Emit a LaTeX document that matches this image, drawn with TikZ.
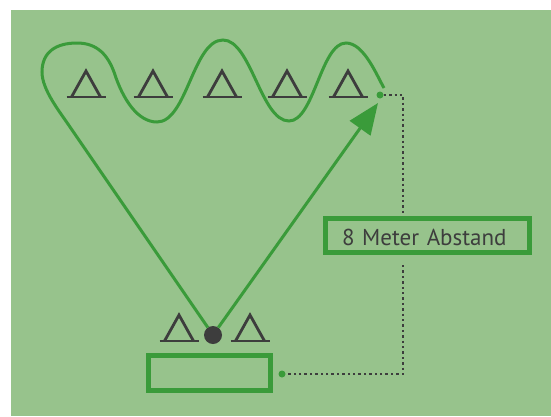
\documentclass[tikz,border=0pt]{standalone}
\usepackage{fontspec}
\setmainfont{PT Sans}
\usetikzlibrary{arrows.meta}
\definecolor{bg}{HTML}{97C38C}
\definecolor{gr}{HTML}{3A9B3A}
\definecolor{dk}{HTML}{3D3D3D}
\tikzset{
  gline/.style={draw=gr, line width=3pt},
  gbox/.style={draw=gr, line width=5pt, inner sep=0pt},
  dotline/.style={draw=dk, line width=2.4pt, dash pattern=on 2.4pt off 3pt},
  gdot/.style={circle, fill=gr, inner sep=0pt, minimum size=7pt},
  cone/.pic={
    \draw[dk, line width=2.8pt, line join=miter] (-14.5,0) -- (0,-26) -- (14.5,0);
    \draw[dk, line width=2.8pt] (-19.5,0) -- (19.5,0);
  }
}
\begin{document}
\begin{tikzpicture}[x=1pt, y=-1pt]
\useasboundingbox (0,0) rectangle (551,416);
\fill[bg] (11,10) rectangle (551,416);
% cones
\foreach \cx/\nm in {86/t1,153/t2,222/t3,287/t4,348/t5} {\pic (\nm) at (\cx,97) {cone};}
\pic (t6) at (179,341) {cone};
\pic (t7) at (250,341) {cone};
% start point
\node[circle, fill=dk, inner sep=0pt, minimum size=18pt] (c) at (213,335) {};
% end dots
\node[gdot] (d1) at (380,95) {};
\node[gdot] (d2) at (282,374) {};
% corner coordinates
\coordinate (k1) at (403,95);
\coordinate (k2) at (403,374);
\coordinate (a) at (70,127);
\coordinate (e) at (384,88);
\coordinate (tip) at (378,103);
% boxes
\node[gbox, minimum width=204pt, minimum height=34pt, text width=171pt, align=left,
      text height=19pt, text depth=0pt, font=\fontsize{23}{25}\selectfont, text=dk]
      (lbl) at (427.5,235.5) {8 Meter Abstand};
\node[gbox, minimum width=122pt, minimum height=35pt] (bb) at (209.5,373) {};
% slalom path
\draw[gline] (c) -- (a)
  .. controls (60,112) and (42,90) .. (42,72)
  .. controls (42,52) and (56,43) .. (77,43)
  .. controls (98,43) and (108,56) .. (114,72)
  .. controls (123,100) and (138,122) .. (157,122)
  .. controls (187,122) and (193,40) .. (223,40)
  .. controls (251,40) and (261,121) .. (289,121)
  .. controls (314,121) and (321,43) .. (346,43)
  .. controls (364,43) and (377,76) .. (e);
% return arrow
\draw[gline, -{Triangle[length=31pt, width=25pt]}] (c) -- (tip);
% distance marker
\draw[dotline] (d1) -- (k1) -- (k1 |- lbl.north);
\draw[dotline] ([yshift=-10pt]k2 |- lbl.south) -- (k2) -- (d2);
\end{tikzpicture}
\end{document}
